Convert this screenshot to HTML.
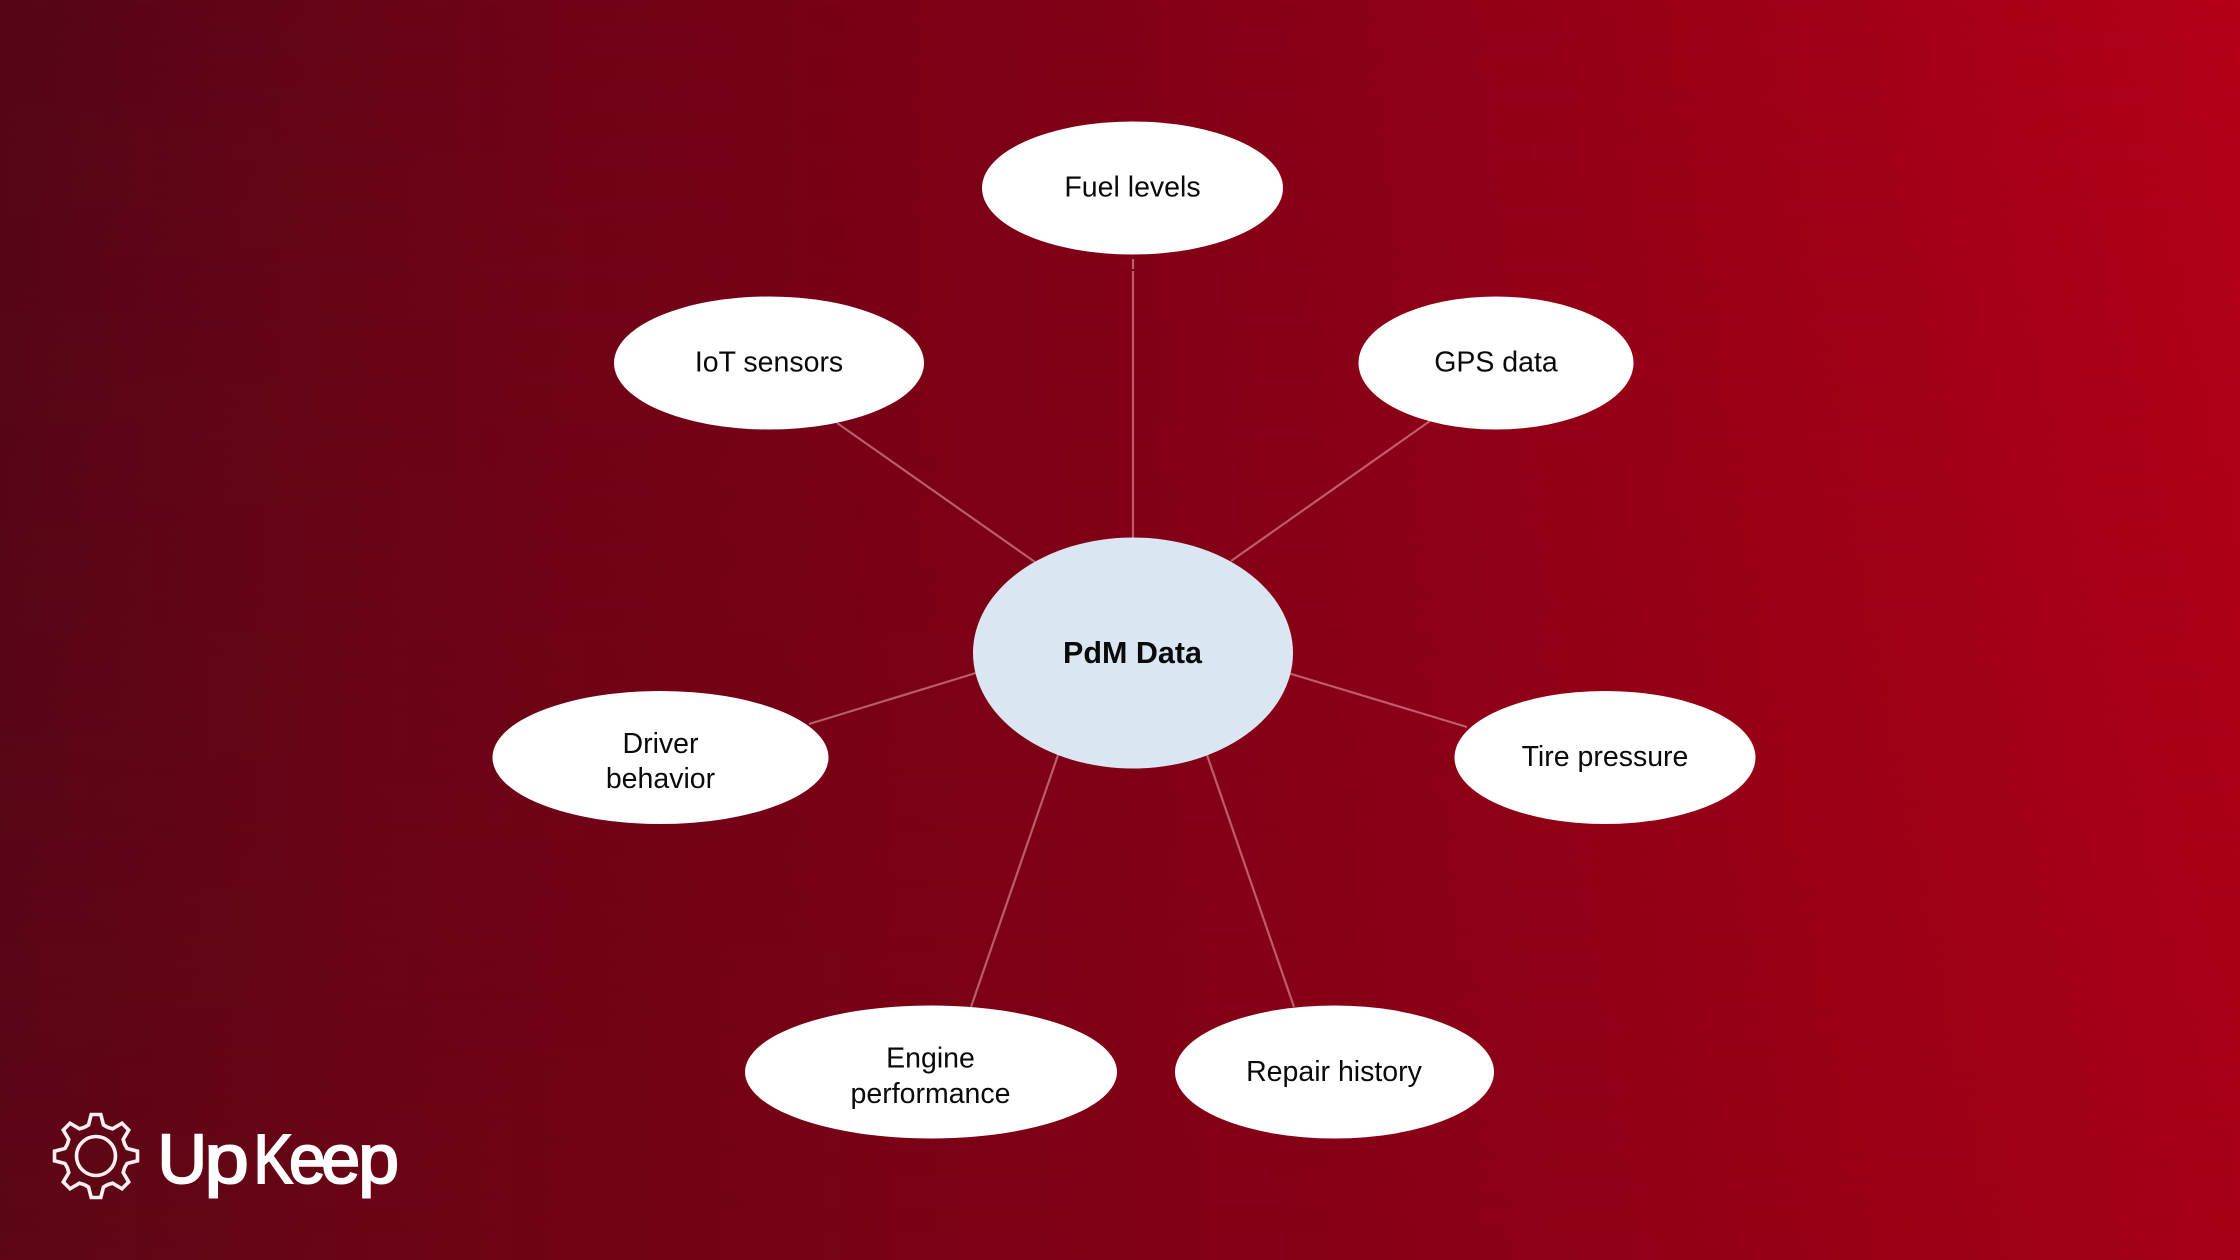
<!DOCTYPE html>
<html><head><meta charset="utf-8"><style>
html,body{margin:0;padding:0;width:2240px;height:1260px;overflow:hidden;background:#7e0016}
svg{display:block}
text{font-family:"Liberation Sans",Arial,sans-serif;fill:#0a0a0a;font-size:28.5px;text-anchor:middle}
.l{stroke:#d4808c;stroke-width:2.2;fill:none;stroke-opacity:.72}
.k{font-size:70px;fill:#fff;stroke:#fff;stroke-width:2;text-anchor:start}
</style></head><body>
<svg width="2240" height="1260" viewBox="0 0 2240 1260" xmlns="http://www.w3.org/2000/svg">
<defs>
<linearGradient id="bgTop" gradientUnits="userSpaceOnUse" x1="0" y1="0" x2="2240" y2="0">
<stop offset="0" stop-color="#540616"/>
<stop offset="0.12" stop-color="#630517"/>
<stop offset="0.25" stop-color="#700317"/>
<stop offset="0.5" stop-color="#820017"/>
<stop offset="0.75" stop-color="#9a0017"/>
<stop offset="1" stop-color="#b40018"/>
</linearGradient>
<linearGradient id="bgBot" gradientUnits="userSpaceOnUse" x1="0" y1="0" x2="2240" y2="0">
<stop offset="0" stop-color="#5c0616"/>
<stop offset="0.12" stop-color="#660516"/>
<stop offset="0.25" stop-color="#700316"/>
<stop offset="0.5" stop-color="#800016"/>
<stop offset="0.75" stop-color="#920016"/>
<stop offset="1" stop-color="#a60016"/>
</linearGradient>
<linearGradient id="fade" gradientUnits="userSpaceOnUse" x1="0" y1="0" x2="0" y2="1260">
<stop offset="0" stop-color="#000"/>
<stop offset="1" stop-color="#fff"/>
</linearGradient>
<mask id="m"><rect width="2240" height="1260" fill="url(#fade)"/></mask>
</defs>
<rect width="2240" height="1260" fill="url(#bgTop)"/>
<rect width="2240" height="1260" fill="url(#bgBot)" mask="url(#m)"/>
<line class="l" x1="1133" y1="259" x2="1133" y2="269"/>
<line class="l" x1="1133" y1="271" x2="1133" y2="540"/>
<line class="l" x1="837" y1="423" x2="1035" y2="562"/>
<line class="l" x1="1430" y1="421" x2="1231" y2="561"/>
<line class="l" x1="809" y1="724" x2="976" y2="673"/>
<line class="l" x1="1288" y1="673" x2="1467" y2="727"/>
<line class="l" x1="1058" y1="755" x2="971" y2="1007"/>
<line class="l" x1="1207" y1="755" x2="1294" y2="1007"/>
<ellipse cx="1133" cy="653" rx="160" ry="115.5" fill="#dae6f1"/>
<ellipse cx="1132.5" cy="188" rx="150.5" ry="66.5" fill="#fff"/>
<ellipse cx="769" cy="363" rx="155" ry="66.5" fill="#fff"/>
<ellipse cx="1496" cy="363" rx="137.5" ry="66.5" fill="#fff"/>
<ellipse cx="660.5" cy="757.5" rx="168" ry="66.5" fill="#fff"/>
<ellipse cx="1605" cy="757.5" rx="150.5" ry="66.5" fill="#fff"/>
<ellipse cx="931" cy="1072" rx="186" ry="66.5" fill="#fff"/>
<ellipse cx="1334.5" cy="1072" rx="159.5" ry="66.5" fill="#fff"/>
<text x="1132.5" y="196.5">Fuel levels</text>
<text x="769" y="371.5">IoT sensors</text>
<text x="1496" y="371.5">GPS data</text>
<text x="660.5" y="753">Driver</text>
<text x="660.5" y="788">behavior</text>
<text x="1605" y="766">Tire pressure</text>
<text x="930.5" y="1067.5">Engine</text>
<text x="930.5" y="1103">performance</text>
<text x="1334" y="1081">Repair history</text>
<text x="1132.5" y="663" style="font-size:30.5px;font-weight:bold">PdM Data</text>
<g transform="translate(96 1156)" fill="none" stroke="#f7eff0" stroke-width="3.6" stroke-linejoin="miter">
<circle r="19.5"/>
<polyline points="-12,-28.5 -7.5,-31 -4.8,-41.5 4.8,-41.5 7.5,-31 12,-28.5"/>
<polyline transform="rotate(45)" points="-12,-28.5 -7.5,-31 -4.8,-41.5 4.8,-41.5 7.5,-31 12,-28.5"/>
<polyline transform="rotate(90)" points="-12,-28.5 -7.5,-31 -4.8,-41.5 4.8,-41.5 7.5,-31 12,-28.5"/>
<polyline transform="rotate(135)" points="-12,-28.5 -7.5,-31 -4.8,-41.5 4.8,-41.5 7.5,-31 12,-28.5"/>
<polyline transform="rotate(180)" points="-12,-28.5 -7.5,-31 -4.8,-41.5 4.8,-41.5 7.5,-31 12,-28.5"/>
<polyline transform="rotate(225)" points="-12,-28.5 -7.5,-31 -4.8,-41.5 4.8,-41.5 7.5,-31 12,-28.5"/>
<polyline transform="rotate(270)" points="-12,-28.5 -7.5,-31 -4.8,-41.5 4.8,-41.5 7.5,-31 12,-28.5"/>
<polyline transform="rotate(315)" points="-12,-28.5 -7.5,-31 -4.8,-41.5 4.8,-41.5 7.5,-31 12,-28.5"/>
</g>
<text class="k" transform="translate(157.5 1183) scale(.98 1)">U</text>
<text class="k" transform="translate(204.5 1183) scale(1.14 1)">p</text>
<text class="k" transform="translate(253.6 1183) scale(.84 1)">K</text>
<text class="k" transform="translate(289 1183) scale(.94 1)">e</text>
<text class="k" transform="translate(321.2 1183) scale(1 1)">e</text>
<text class="k" transform="translate(358.2 1183) scale(1.05 1)">p</text>
</svg>
</body></html>
